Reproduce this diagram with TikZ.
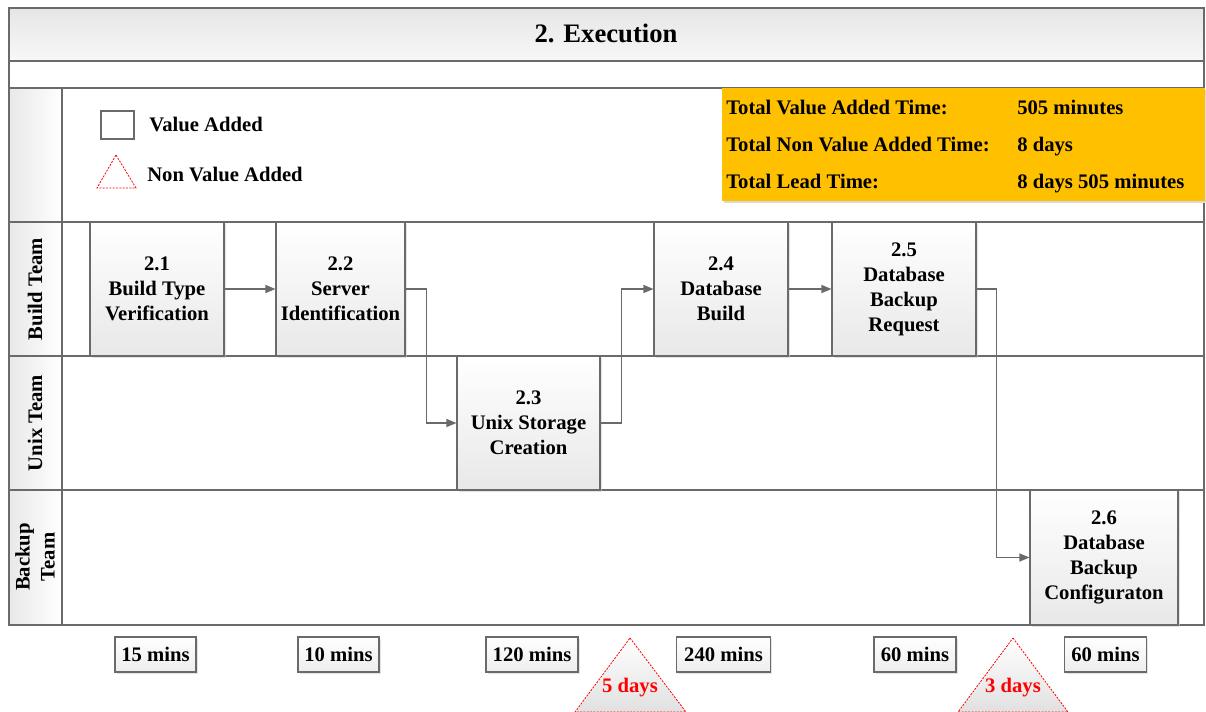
\documentclass[tikz,border=0pt]{standalone}
\usepackage{fontspec}
\setmainfont{Liberation Serif}[BoldFont={Liberation Serif Bold}]
\usetikzlibrary{arrows.meta,shadows}
\definecolor{ln}{HTML}{6A6A6A}
\definecolor{orng}{HTML}{FFC000}
\tikzset{
  lane/.style={draw=ln,line width=0.9pt},
  stepbox/.style={draw=ln,line width=0.8pt,top color=white,bottom color=black!9,
    drop shadow={shadow xshift=1.5pt,shadow yshift=-1.5pt,fill=black!18,opacity=0.6},
    inner sep=0pt,align=center,font=\fontsize{15.5}{18.75}\selectfont\bfseries},
  timebox/.style={draw=ln,line width=0.8pt,top color=white,bottom color=black!7,
    drop shadow={shadow xshift=1.2pt,shadow yshift=-1.2pt,fill=black!18,opacity=0.6},
    inner sep=0pt,minimum height=26.25pt,font=\fontsize{15.5}{18}\selectfont\bfseries},
  arr/.style={draw=ln,line width=0.9pt,-{Triangle[length=7.5pt,width=6pt]}},
  nvaline/.style={draw=red,dashed,dash pattern=on 1.5pt off 1pt,line width=0.6pt},
  nva/.style={nvaline,top color=white,bottom color=black!12},
  lbl/.style={font=\fontsize{15.5}{18}\selectfont\bfseries,inner sep=0pt},
  hdr/.style={font=\fontsize{15.5}{18.75}\selectfont\bfseries,rotate=90,align=center,inner sep=0pt}
}
\begin{document}
\begin{tikzpicture}[x=0.75pt,y=-0.75pt]
\useasboundingbox (0,0) rectangle (1206,711);
% title bar
\shade[top color=black!10,bottom color=black!3] (9,8) rectangle (1204,61);
\node[font=\fontsize{20}{24}\selectfont\bfseries] (title) at (606,33) {2. Execution};
% header column shading
\shade[left color=black!9,right color=white] (9,88) rectangle (62,625);
% lanes
\draw[lane] (9,8) rectangle (1204,625);
\draw[lane] (9,61) -- (1204,61);
\draw[lane] (9,88) -- (1204,88);
\draw[lane] (9,222) -- (1204,222);
\draw[lane] (9,356) -- (1204,356);
\draw[lane] (9,490) -- (1204,490);
\draw[lane] (62,88) -- (62,625);
% lane headers
\node[hdr] (hBuild) at (35,289) {Build Team};
\node[hdr] (hUnix) at (35,423) {Unix Team};
\node[hdr] (hBackup) at (35,557) {Backup\\Team};
% legend
\node[draw=ln,line width=0.8pt,fill=white,minimum width=24.75pt,minimum height=21pt,inner sep=0pt,
  drop shadow={shadow xshift=1pt,shadow yshift=-1pt,fill=black!18,opacity=0.6}] (legVA) at (117.5,125) {};
\node[lbl,anchor=west] (legVAt) at (149,124) {Value Added};
\draw[nvaline,fill=white] (116,155) -- (136,188) -- (97,188) -- cycle;
\node[lbl,anchor=west] (legNVAt) at (147,174) {Non Value Added};
% info box
\fill[black!15] (724,90) rectangle (1207,203);
\fill[orng] (722,88) rectangle (1205,201);
\node[lbl,anchor=base west] (i1a) at (726,114) {Total Value Added Time:};
\node[lbl,anchor=base west] (i1b) at (1017,114) {505 minutes};
\node[lbl,anchor=base west] (i2a) at (726,151) {Total Non Value Added Time:};
\node[lbl,anchor=base west] (i2b) at (1017,151) {8 days};
\node[lbl,anchor=base west] (i3a) at (726,188) {Total Lead Time:};
\node[lbl,anchor=base west] (i3b) at (1017,188) {8 days 505 minutes};
% process boxes
\node[stepbox,minimum width=100.5pt,minimum height=100.5pt] (b1) at (157,289) {2.1\\Build Type\\Verification};
\node[stepbox,minimum width=96.75pt,minimum height=100.5pt] (b2) at (340.5,289) {2.2\\Server\\Identification};
\node[stepbox,minimum width=107.25pt,minimum height=100.5pt] (b3) at (528.5,423) {2.3\\Unix Storage\\Creation};
\node[stepbox,minimum width=100.5pt,minimum height=100.5pt] (b4) at (721,289) {2.4\\Database\\Build};
\node[stepbox,minimum width=108pt,minimum height=100.5pt] (b5) at (904,289) {2.5\\Database\\Backup\\Request};
\node[stepbox,minimum width=111pt,minimum height=101.25pt] (b6) at (1104,557.5) {2.6\\Database\\Backup\\Configuraton};
% connectors
\draw[arr] (b1.east) -- (b2.west);
\draw[arr] (b2.east) -- ++(21,0) |- (b3.west);
\draw[arr] (b3.east) -- ++(21,0) |- (b4.west);
\draw[arr] (b4.east) -- (b5.west);
\draw[arr] (b5.east) -- ++(20,0) |- (b6.west);
% time boxes
\node[timebox,minimum width=60.75pt] (t1) at (155.5,654.5) {15 mins};
\node[timebox,minimum width=60.75pt] (t2) at (338.5,654.5) {10 mins};
\node[timebox,minimum width=69pt] (t3) at (532,654.5) {120 mins};
\node[timebox,minimum width=70pt] (t4) at (723.5,654.5) {240 mins};
\node[timebox,minimum width=61.5pt] (t5) at (915,654.5) {60 mins};
\node[timebox,minimum width=61.5pt] (t6) at (1105.5,654.5) {60 mins};
% non value added triangles
\draw[nva] (630,638) -- (686,712) -- (575,712) -- cycle;
\node[lbl,text=red] (d1) at (630,688) {5 days};
\draw[nva] (1013,638) -- (1068,712) -- (958,712) -- cycle;
\node[lbl,text=red] (d2) at (1013,688) {3 days};
\end{tikzpicture}
\end{document}
